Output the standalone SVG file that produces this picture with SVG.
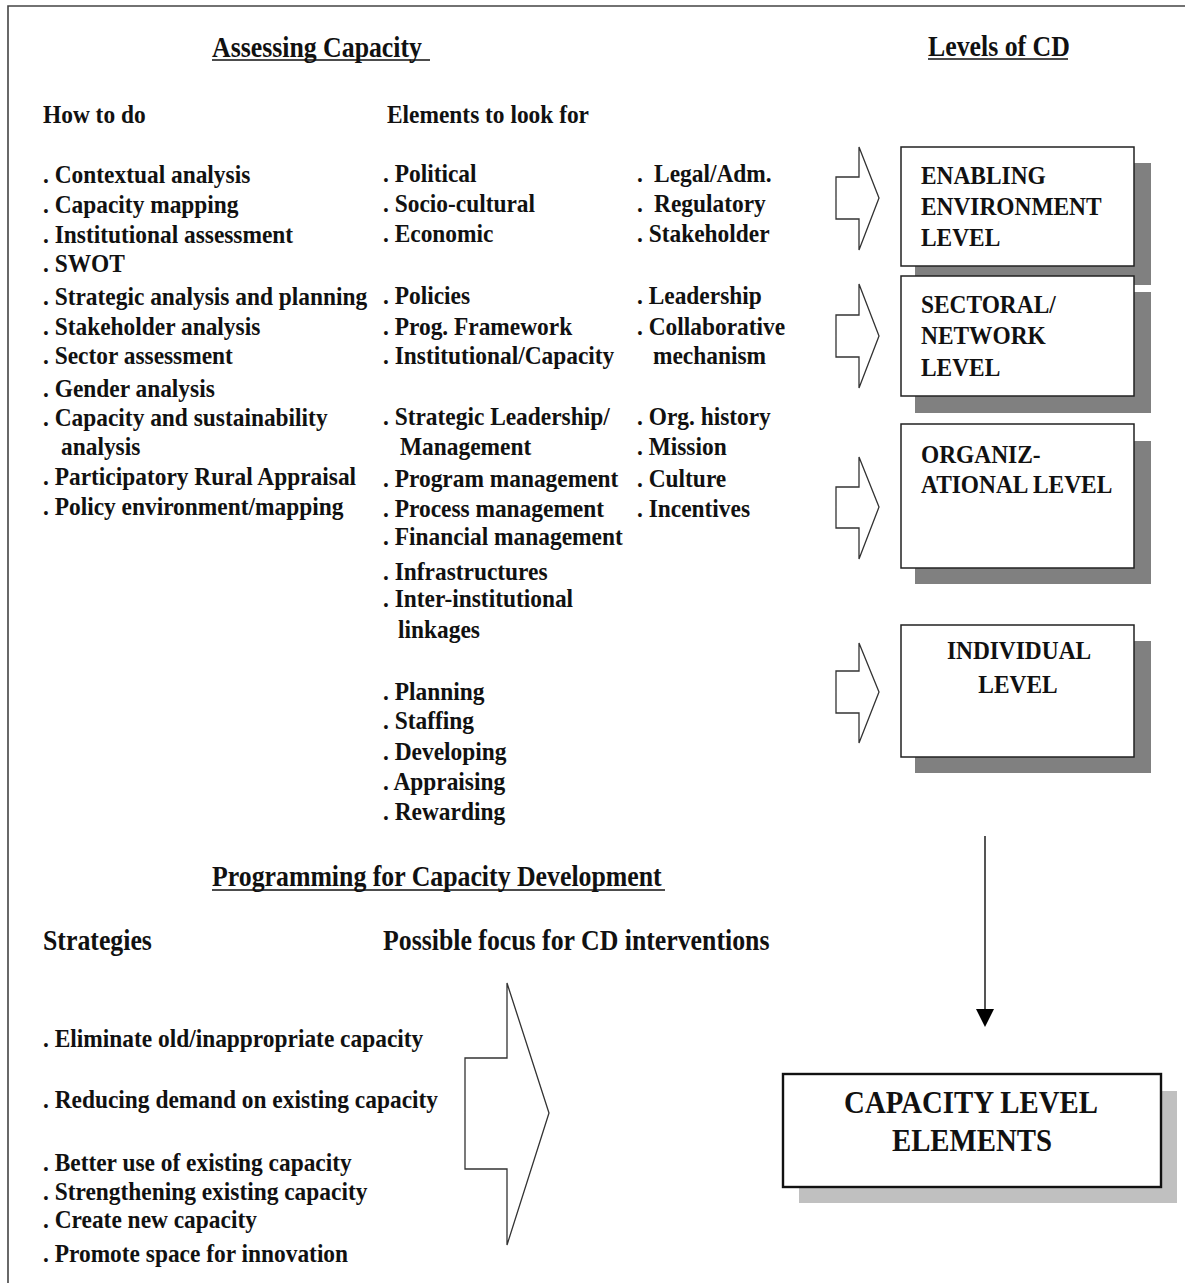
<svg xmlns="http://www.w3.org/2000/svg" width="1185" height="1283" viewBox="0 0 1185 1283">
  <defs>
    <style>
      .t{font-family:"Liberation Serif","Times New Roman",serif;font-weight:bold;font-size:26px;fill:#111}
      .h{font-size:29px}
      .big{font-size:31px}
      .ul{stroke:#111;stroke-width:1.6}
      .box{fill:#fff;stroke:#222;stroke-width:1.5}
      .shadow{fill:#808080}
      .shadow-lt{fill:#c0c0c0}
      .barrow{fill:#fff;stroke:#333;stroke-width:1.3;stroke-linejoin:miter}
      .frame{fill:none;stroke:#444;stroke-width:1.6}
    </style>
    <marker id="tri" markerUnits="userSpaceOnUse" markerWidth="18" markerHeight="18" viewBox="0 0 18 18" refX="0" refY="9" orient="auto">
      <path d="M0,0 L18,9 L0,18 Z" fill="#000"/>
    </marker>
  </defs>

  <rect width="1185" height="1283" fill="#fff"/>
  <!-- page frame: left and top edges -->
  <path class="frame" d="M8,1283 V6 H1185"/>

  <!-- section headings -->
  <g id="headings">
    <text class="t h" transform="translate(212 57) scale(0.89 1)">Assessing Capacity</text>
    <line class="ul" x1="212" y1="60" x2="430" y2="60"/>
    <text class="t h" transform="translate(928 56) scale(0.89 1)">Levels of CD</text>
    <line class="ul" x1="928" y1="59" x2="1068" y2="59"/>
    <text class="t h" transform="translate(212 886) scale(0.89 1)">Programming for Capacity Development</text>
    <line class="ul" x1="212" y1="890" x2="665" y2="890"/>
  </g>

  <!-- how to do -->
  <g id="how-to-do">
    <text class="t" transform="translate(43 123) scale(0.9 1)">How to do</text>
    <text class="t" transform="translate(43 183) scale(0.9 1)">. Contextual analysis</text>
    <text class="t" transform="translate(43 213) scale(0.9 1)">. Capacity mapping</text>
    <text class="t" transform="translate(43 243) scale(0.9 1)">. Institutional assessment</text>
    <text class="t" transform="translate(43 272) scale(0.9 1)">. SWOT</text>
    <text class="t" transform="translate(43 305) scale(0.9 1)">. Strategic analysis and planning</text>
    <text class="t" transform="translate(43 335) scale(0.9 1)">. Stakeholder analysis</text>
    <text class="t" transform="translate(43 364) scale(0.9 1)">. Sector assessment</text>
    <text class="t" transform="translate(43 397) scale(0.9 1)">. Gender analysis</text>
    <text class="t" transform="translate(43 426) scale(0.9 1)">. Capacity and sustainability</text>
    <text class="t" transform="translate(61 455) scale(0.9 1)">analysis</text>
    <text class="t" transform="translate(43 485) scale(0.9 1)">. Participatory Rural Appraisal</text>
    <text class="t" transform="translate(43 515) scale(0.9 1)">. Policy environment/mapping</text>
  </g>

  <!-- elements to look for -->
  <g id="elements">
    <text class="t" transform="translate(387 123) scale(0.9 1)">Elements to look for</text>
    <text class="t" transform="translate(383 182) scale(0.9 1)">. Political</text>
    <text class="t" transform="translate(383 212) scale(0.9 1)">. Socio-cultural</text>
    <text class="t" transform="translate(383 242) scale(0.9 1)">. Economic</text>
    <text class="t" transform="translate(383 304) scale(0.9 1)">. Policies</text>
    <text class="t" transform="translate(383 335) scale(0.9 1)">. Prog. Framework</text>
    <text class="t" transform="translate(383 364) scale(0.9 1)">. Institutional/Capacity</text>
    <text class="t" transform="translate(383 425) scale(0.9 1)">. Strategic Leadership/</text>
    <text class="t" transform="translate(400 455) scale(0.9 1)">Management</text>
    <text class="t" transform="translate(383 487) scale(0.9 1)">. Program management</text>
    <text class="t" transform="translate(383 517) scale(0.9 1)">. Process management</text>
    <text class="t" transform="translate(383 545) scale(0.9 1)">. Financial management</text>
    <text class="t" transform="translate(383 580) scale(0.9 1)">. Infrastructures</text>
    <text class="t" transform="translate(383 607) scale(0.9 1)">. Inter-institutional</text>
    <text class="t" transform="translate(398 638) scale(0.9 1)">linkages</text>
    <text class="t" transform="translate(383 700) scale(0.9 1)">. Planning</text>
    <text class="t" transform="translate(383 729) scale(0.9 1)">. Staffing</text>
    <text class="t" transform="translate(383 760) scale(0.9 1)">. Developing</text>
    <text class="t" transform="translate(383 790) scale(0.9 1)">. Appraising</text>
    <text class="t" transform="translate(383 820) scale(0.9 1)">. Rewarding</text>

    <text class="t" transform="translate(637 182) scale(0.9 1)">. <tspan dx="6">Legal/Adm.</tspan></text>
    <text class="t" transform="translate(637 212) scale(0.9 1)">. <tspan dx="6">Regulatory</tspan></text>
    <text class="t" transform="translate(637 242) scale(0.9 1)">. Stakeholder</text>
    <text class="t" transform="translate(637 304) scale(0.9 1)">. Leadership</text>
    <text class="t" transform="translate(637 335) scale(0.9 1)">. Collaborative</text>
    <text class="t" transform="translate(653 364) scale(0.9 1)">mechanism</text>
    <text class="t" transform="translate(637 425) scale(0.9 1)">. Org. history</text>
    <text class="t" transform="translate(637 455) scale(0.9 1)">. Mission</text>
    <text class="t" transform="translate(637 487) scale(0.9 1)">. Culture</text>
    <text class="t" transform="translate(637 517) scale(0.9 1)">. Incentives</text>
  </g>

  <!-- level block arrows -->
  <g id="level-arrows">
    <polygon class="barrow" points="836,177 859,177 859,147 879,198 859,250 859,219 836,219"/>
    <polygon class="barrow" points="836,315 859,315 859,284 879,336 859,388 859,357 836,357"/>
    <polygon class="barrow" points="836,487 859,487 859,457 879,507 859,559 859,528 836,528"/>
    <polygon class="barrow" points="836,671 859,671 859,643 879,692 859,743 859,713 836,713"/>
  </g>

  <!-- levels of CD -->
  <g id="level-enabling">
    <rect class="shadow" x="915" y="163" width="236" height="122"/>
    <rect class="box" x="901" y="147" width="233" height="119"/>
    <text class="t" transform="translate(921 184) scale(0.9 1)">ENABLING</text>
    <text class="t" transform="translate(921 215) scale(0.9 1)">ENVIRONMENT</text>
    <text class="t" transform="translate(921 246) scale(0.9 1)">LEVEL</text>
  </g>
  <g id="level-sectoral">
    <rect class="shadow" x="915" y="292" width="236" height="121"/>
    <rect class="box" x="901" y="276" width="233" height="120"/>
    <text class="t" transform="translate(921 313) scale(0.9 1)">SECTORAL/</text>
    <text class="t" transform="translate(921 344) scale(0.9 1)">NETWORK</text>
    <text class="t" transform="translate(921 376) scale(0.9 1)">LEVEL</text>
  </g>
  <g id="level-organizational">
    <rect class="shadow" x="915" y="441" width="236" height="143"/>
    <rect class="box" x="901" y="424" width="233" height="144"/>
    <text class="t" transform="translate(921 463) scale(0.9 1)">ORGANIZ-</text>
    <text class="t" transform="translate(921 493) scale(0.9 1)">ATIONAL LEVEL</text>
  </g>
  <g id="level-individual">
    <rect class="shadow" x="915" y="641" width="236" height="132"/>
    <rect class="box" x="901" y="625" width="233" height="132"/>
    <text class="t" text-anchor="middle" transform="translate(1019 659) scale(0.9 1)">INDIVIDUAL</text>
    <text class="t" text-anchor="middle" transform="translate(1018 693) scale(0.9 1)">LEVEL</text>
  </g>

  <!-- programming -->
  <g id="strategies">
    <text class="t h" transform="translate(43 950) scale(0.89 1)">Strategies</text>
    <text class="t h" transform="translate(383 950) scale(0.89 1)">Possible focus for CD interventions</text>
    <text class="t" transform="translate(43 1047) scale(0.9 1)">. Eliminate old/inappropriate capacity</text>
    <text class="t" transform="translate(43 1108) scale(0.9 1)">. Reducing demand on existing capacity</text>
    <text class="t" transform="translate(43 1171) scale(0.9 1)">. Better use of existing capacity</text>
    <text class="t" transform="translate(43 1200) scale(0.9 1)">. Strengthening existing capacity</text>
    <text class="t" transform="translate(43 1228) scale(0.9 1)">. Create new capacity</text>
    <text class="t" transform="translate(43 1262) scale(0.9 1)">. Promote space for innovation</text>
  </g>

  <g id="focus-arrow">
    <polygon class="barrow" points="465,1058 507,1058 507,983 549,1113 507,1245 507,1169 465,1169"/>
  </g>

  <g id="capacity-elements">
    <rect class="shadow-lt" x="799" y="1091" width="378" height="112"/>
    <rect x="783" y="1074" width="378" height="113" fill="#fff" stroke="#111" stroke-width="2.4"/>
    <text class="t big" text-anchor="middle" transform="translate(971 1113) scale(0.93 1)">CAPACITY LEVEL</text>
    <text class="t big" text-anchor="middle" transform="translate(972 1151) scale(0.93 1)">ELEMENTS</text>
  </g>

  <!-- connectors -->
  <g id="connectors">
    <line x1="985" y1="836" x2="985" y2="1009" stroke="#555" stroke-width="2" marker-end="url(#tri)"/>
  </g>
</svg>
